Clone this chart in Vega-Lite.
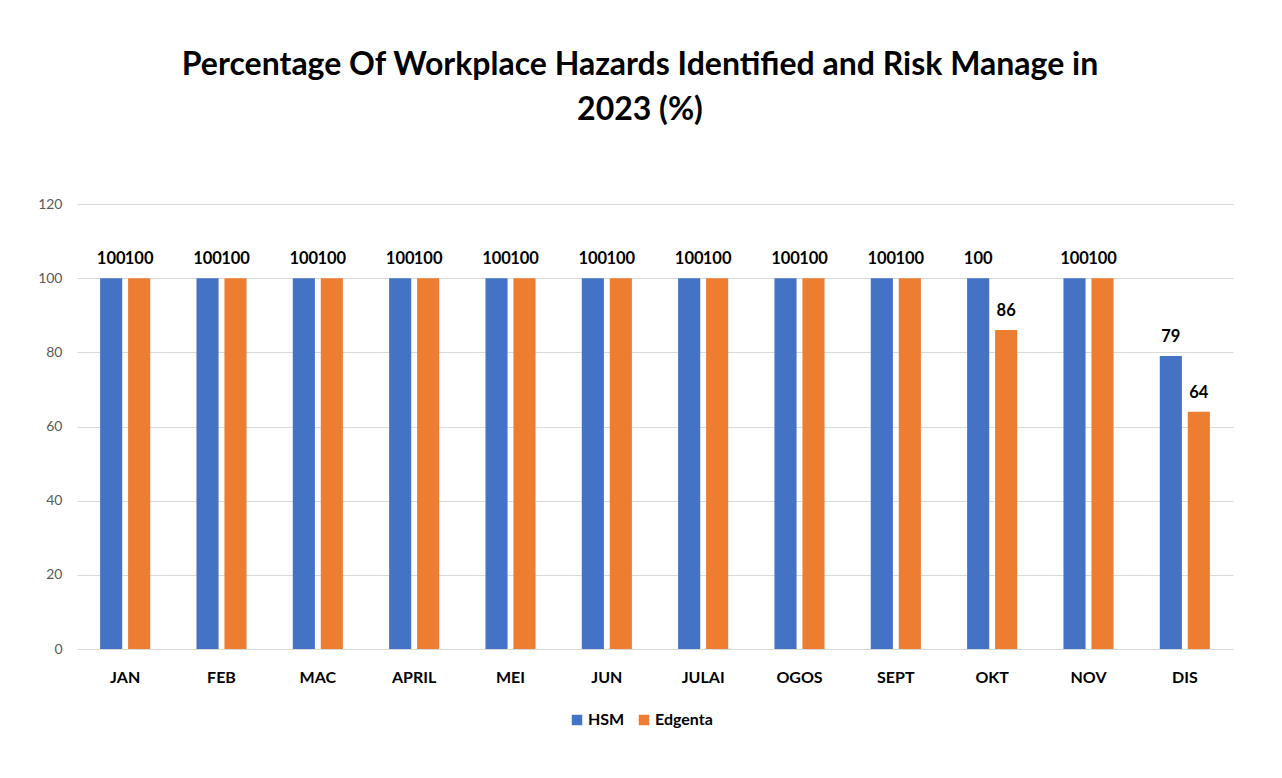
{
  "$schema": "https://vega.github.io/schema/vega-lite/v6.json",
  "autosize": {"type": "none"},
  "padding": {"left": 77, "top": 204, "right": 49, "bottom": 129},
  "width": 1156,
  "height": 445,
  "background": "white",
  "config": {"view": {"stroke": null}},
  "title": {
    "text": ["Percentage Of Workplace Hazards Identified and Risk Manage in", "2023 (%)"],
    "font": "Lato",
    "fontSize": 32,
    "fontWeight": "bold",
    "color": "#000000",
    "lineHeight": 45,
    "anchor": "middle",
    "offset": 70,
    "dx": -15
  },
  "data": {
    "values": [
      {"month": "JAN", "series": "HSM", "value": 100},
      {"month": "JAN", "series": "Edgenta", "value": 100},
      {"month": "FEB", "series": "HSM", "value": 100},
      {"month": "FEB", "series": "Edgenta", "value": 100},
      {"month": "MAC", "series": "HSM", "value": 100},
      {"month": "MAC", "series": "Edgenta", "value": 100},
      {"month": "APRIL", "series": "HSM", "value": 100},
      {"month": "APRIL", "series": "Edgenta", "value": 100},
      {"month": "MEI", "series": "HSM", "value": 100},
      {"month": "MEI", "series": "Edgenta", "value": 100},
      {"month": "JUN", "series": "HSM", "value": 100},
      {"month": "JUN", "series": "Edgenta", "value": 100},
      {"month": "JULAI", "series": "HSM", "value": 100},
      {"month": "JULAI", "series": "Edgenta", "value": 100},
      {"month": "OGOS", "series": "HSM", "value": 100},
      {"month": "OGOS", "series": "Edgenta", "value": 100},
      {"month": "SEPT", "series": "HSM", "value": 100},
      {"month": "SEPT", "series": "Edgenta", "value": 100},
      {"month": "OKT", "series": "HSM", "value": 100},
      {"month": "OKT", "series": "Edgenta", "value": 86},
      {"month": "NOV", "series": "HSM", "value": 100},
      {"month": "NOV", "series": "Edgenta", "value": 100},
      {"month": "DIS", "series": "HSM", "value": 79},
      {"month": "DIS", "series": "Edgenta", "value": 64}
    ]
  },
  "encoding": {
    "x": {
      "field": "month",
      "type": "nominal",
      "sort": null,
      "scale": {"paddingInner": 0.48, "paddingOuter": 0.24},
      "axis": {
        "title": null,
        "labelAngle": 0,
        "labelFont": "Lato",
        "labelFontSize": 16,
        "labelFontWeight": "bold",
        "labelColor": "#000000",
        "labelPadding": 20,
        "ticks": false,
        "domain": false,
        "grid": false
      }
    },
    "xOffset": {
      "field": "series",
      "type": "nominal",
      "sort": ["HSM", "Edgenta"],
      "scale": {"paddingInner": 0.21, "paddingOuter": 0}
    },
    "y": {
      "field": "value",
      "type": "quantitative",
      "scale": {"domain": [0, 120]},
      "axis": {
        "title": null,
        "values": [0, 20, 40, 60, 80, 100, 120],
        "labelFont": "Lato",
        "labelFontSize": 14,
        "labelColor": "#595959",
        "labelPadding": 15,
        "ticks": false,
        "domain": false,
        "grid": true,
        "gridColor": "#d9d9d9",
        "gridWidth": 1
      }
    }
  },
  "layer": [
    {
      "mark": {"type": "bar"},
      "encoding": {
        "color": {
          "field": "series",
          "type": "nominal",
          "sort": ["HSM", "Edgenta"],
          "scale": {"domain": ["HSM", "Edgenta"], "range": ["#4472C4", "#ED7D31"]},
          "legend": {
            "title": null,
            "orient": "none",
            "direction": "horizontal",
            "legendX": 492,
            "legendY": 508,
            "symbolType": "square",
            "symbolSize": 110,
            "symbolStrokeWidth": 0,
            "labelFont": "Lato",
            "labelFontSize": 16,
            "labelFontWeight": "bold",
            "labelColor": "#000000",
            "columnPadding": 11,
            "labelOffset": 3
          }
        }
      }
    },
    {
      "mark": {
        "type": "text",
        "baseline": "alphabetic",
        "dy": -14,
        "font": "Lato",
        "fontSize": 16.5,
        "fontWeight": "bold",
        "color": "#000000"
      },
      "encoding": {
        "text": {"field": "value", "type": "quantitative"}
      }
    }
  ]
}
